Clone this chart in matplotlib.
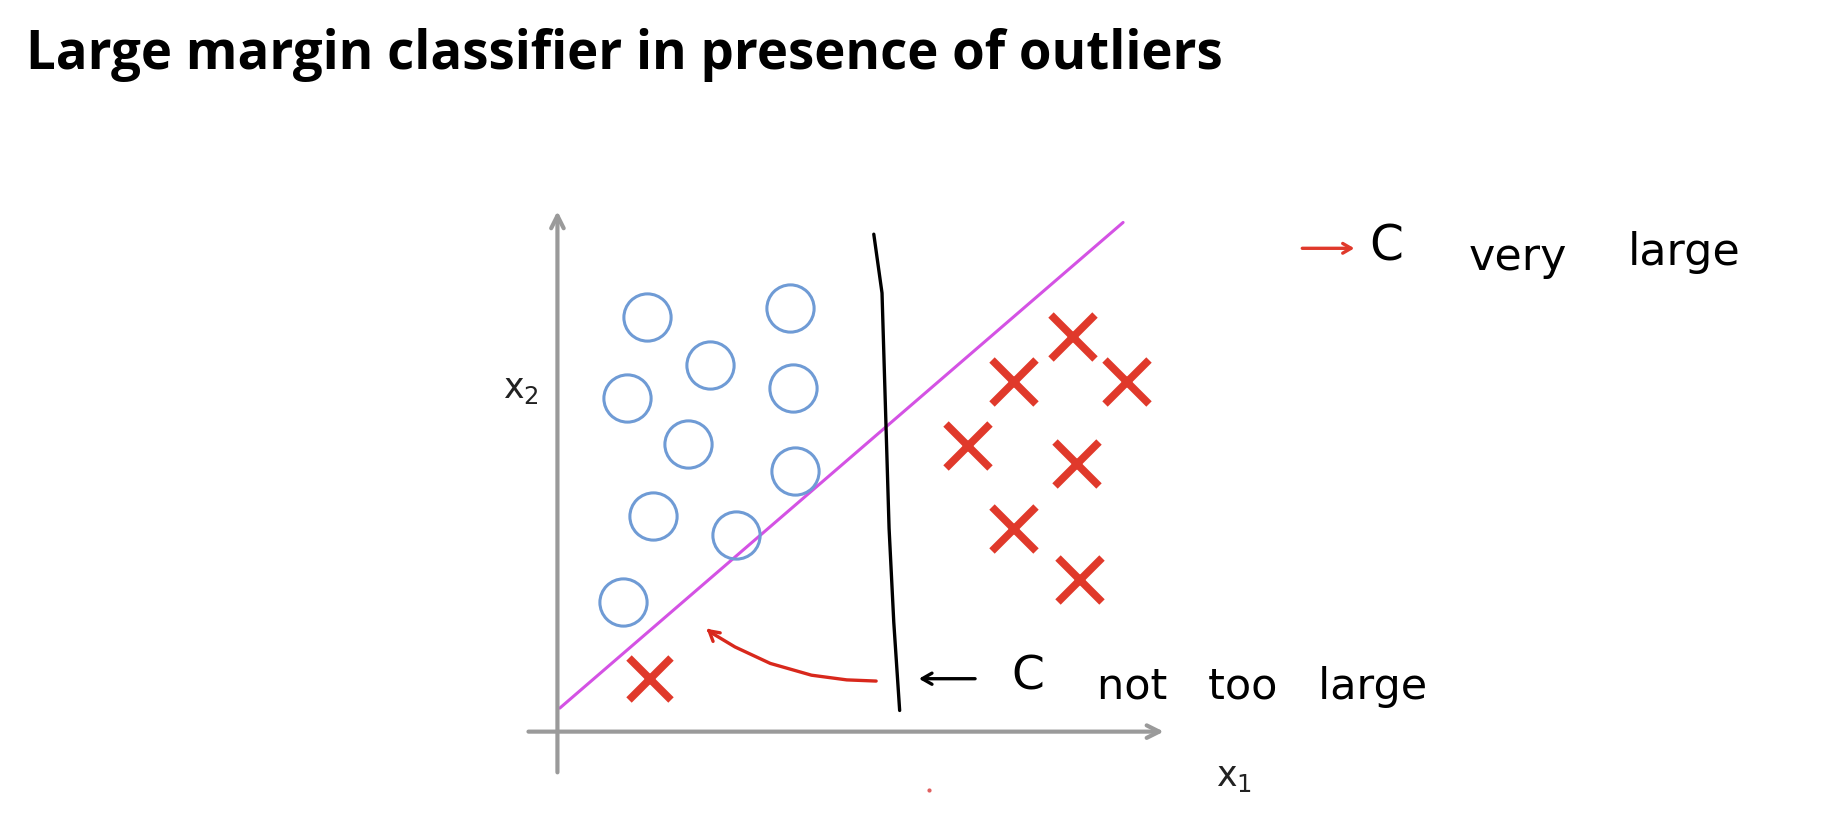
import matplotlib
matplotlib.use("Agg")
import matplotlib.pyplot as plt

# ---- data (x1, x2 in plot units; origin at axes crossing) ----
circle_x1 = [1.52, 3.96, 2.60, 1.18, 4.00, 2.22, 4.04, 1.62, 3.04, 1.12]
circle_x2 = [7.06, 7.20, 6.24, 5.68, 5.84, 4.90, 4.44, 3.66, 3.34, 2.20]
cross_x1 = [8.76, 7.76, 9.68, 6.98, 8.84, 7.76, 8.88]
cross_x2 = [6.72, 5.94, 5.94, 4.86, 4.56, 3.44, 2.58]
outlier_x1 = [1.58]
outlier_x2 = [0.90]
large_C_x1 = [0.04, 9.62]
large_C_x2 = [0.40, 8.66]
small_C_x1 = [5.38, 5.52, 5.58, 5.64, 5.72, 5.82]
small_C_x2 = [8.46, 7.46, 5.46, 3.46, 1.86, 0.36]
shift_x1 = [5.42, 4.92, 4.32, 3.62, 3.02, 2.62]
shift_x2 = [0.86, 0.88, 0.96, 1.16, 1.44, 1.68]

title = "Large margin classifier in presence of outliers"

fig = plt.figure(figsize=(18.44, 8.28), dpi=100)
ax = fig.add_axes([0, 0, 1, 1])
ax.set_xlim(-9.48, 21.88)
ax.set_ylim(-1.622, 12.46)
ax.axis("off")

gray = "#9a9a9a"
# axes with arrows
ax.annotate("", xy=(0, 8.9), xytext=(0, -0.74),
            arrowprops=dict(arrowstyle="->,head_length=0.9,head_width=0.45", color=gray, lw=3))
ax.annotate("", xy=(10.36, 0), xytext=(-0.54, 0),
            arrowprops=dict(arrowstyle="->,head_length=0.9,head_width=0.45", color=gray, lw=3))

ax.text(-0.62, 5.84, "x$_2$", fontsize=25, family="DejaVu Sans", color="#222222",
        ha="center", va="center")
ax.text(11.5, -0.76, "x$_1$", fontsize=25, family="DejaVu Sans", color="#222222",
        ha="center", va="center")

# decision boundaries
ax.plot(large_C_x1, large_C_x2, color="#d452e4", lw=2.2, solid_capstyle="round")
ax.plot(small_C_x1, small_C_x2, color="black", lw=2.4, solid_capstyle="round")

# points
ax.plot(circle_x1, circle_x2, "o", ms=34, mfc="none", mec="#6f9bd5", mew=2.2)
ax.plot(cross_x1, cross_x2, "x", ms=32, mec="#e0392b", mew=5.5)
ax.plot(outlier_x1, outlier_x2, "x", ms=30, mec="#e0392b", mew=5.5)

# red curved arrow showing shift
ax.plot(shift_x1, shift_x2, color="#d8281c", lw=2.4, solid_capstyle="round")
ax.annotate("", xy=(2.50, 1.78), xytext=(shift_x1[-1], shift_x2[-1]),
            arrowprops=dict(arrowstyle="->,head_length=0.7,head_width=0.4", color="#d8281c", lw=2.4))

# "<- C not too large"
ax.annotate("", xy=(6.10, 0.90), xytext=(7.15, 0.90),
            arrowprops=dict(arrowstyle="->,head_length=0.7,head_width=0.4", color="black", lw=2.4))
hand = dict(family="DejaVu Sans", color="black", va="center", ha="left")
ax.text(7.72, 0.94, "C", fontsize=34, **hand)
ax.text(9.18, 0.78, "not   too   large", fontsize=31, **hand)

# "-> C very large"
ax.annotate("", xy=(13.6, 8.22), xytext=(12.62, 8.22),
            arrowprops=dict(arrowstyle="->,head_length=0.6,head_width=0.35", color="#e0392b", lw=2.4))
ax.text(13.8, 8.26, "C", fontsize=35, **hand)
ax.text(15.5, 8.08, "very", fontsize=32, **hand)
ax.text(18.2, 8.16, "large", fontsize=32, **hand)

# stray red dot
ax.plot([6.32], [-1.0], ".", ms=4, color="#e06060")

fig.text(26 / 1844, 1 - 55 / 828, title, fontsize=38, family="Open Sans", fontweight="bold",
         ha="left", va="center", color="black")

fig.savefig("out.png", dpi=100, facecolor="white")
